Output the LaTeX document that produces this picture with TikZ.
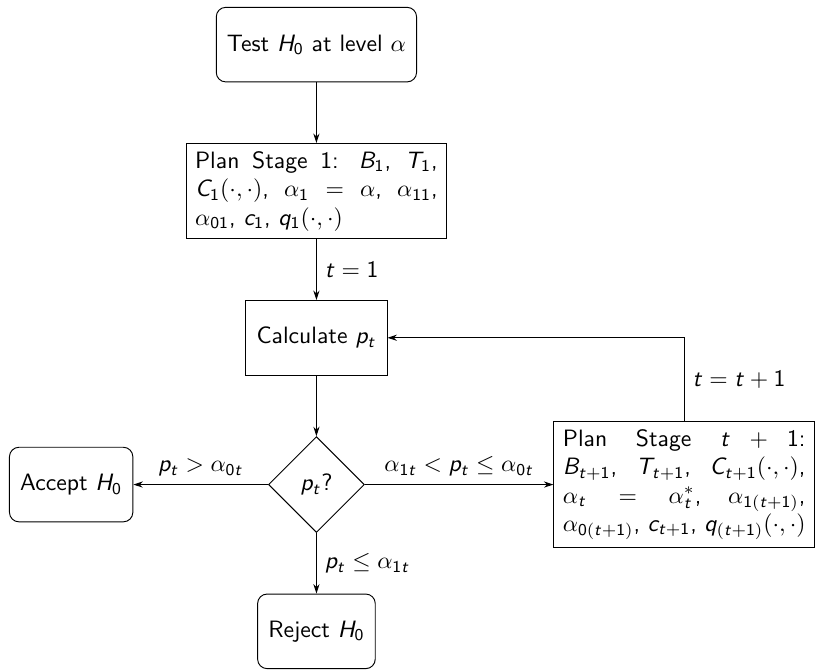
\documentclass[tikz,border=0pt]{standalone}
\usepackage{amsmath}
\renewcommand{\familydefault}{\sfdefault}
% sans italic letters and sans digits in math
\DeclareSymbolFont{sfletters}{OT1}{cmss}{m}{sl}
\DeclareSymbolFont{sfdigits}{OT1}{cmss}{m}{n}
\DeclareMathSymbol{B}{\mathalpha}{sfletters}{`B}
\DeclareMathSymbol{C}{\mathalpha}{sfletters}{`C}
\DeclareMathSymbol{H}{\mathalpha}{sfletters}{`H}
\DeclareMathSymbol{T}{\mathalpha}{sfletters}{`T}
\DeclareMathSymbol{c}{\mathalpha}{sfletters}{`c}
\DeclareMathSymbol{p}{\mathalpha}{sfletters}{`p}
\DeclareMathSymbol{q}{\mathalpha}{sfletters}{`q}
\DeclareMathSymbol{t}{\mathalpha}{sfletters}{`t}
\DeclareMathSymbol{0}{\mathalpha}{sfdigits}{`0}
\DeclareMathSymbol{1}{\mathalpha}{sfdigits}{`1}
\usetikzlibrary{arrows.meta,positioning,calc,shapes.geometric}

\begin{document}
\begin{tikzpicture}[
    >={Stealth[length=4pt,width=2.6pt]}, node distance=9mm,
    term/.style={draw, rounded corners, align=center, minimum height=31.5pt,
                 inner xsep=4.5pt},
    proc/.style={draw, align=center, minimum height=31.5pt, inner xsep=4.5pt},
    plan/.style={draw, text width=102.5pt, align=justify, inner xsep=3.8pt},
    dec/.style={draw, diamond, aspect=1, minimum size=40.5pt, inner sep=1pt},
  ]
  \node[term] (test) {Test $H_0$ at level $\alpha$};
  \node[plan, below=of test] (plan1)
    {Plan Stage 1: $B_1$, $T_1$, $C_1(\cdot,\cdot)$, $\alpha_1 = \alpha$,
     $\alpha_{11}$, $\alpha_{01}$, $c_1$, $q_1(\cdot,\cdot)$};
  \node[proc, below=of plan1] (calc) {Calculate $p_t$};
  \node[dec, below=of calc] (ptest) {$p_t$?};
  \node[term, left=20mm of ptest] (accept) {Accept $H_0$};
  \node[plan, right=28mm of ptest] (plannext)
    {Plan Stage $t+1$:\linebreak $B_{t+1}$, $T_{t+1}$, $C_{t+1}(\cdot,\cdot)$,
     $\alpha_t = \alpha_t^*$, $\alpha_{1(t+1)}$, $\alpha_{0(t+1)}$, $c_{t+1}$,
     $q_{(t+1)}(\cdot,\cdot)$};
  \node[term, below=of ptest] (reject) {Reject $H_0$};

  % main column
  \draw[->] (test) -- (plan1);
  \draw[->] (plan1) -- node[right] {$t=1$} (calc);
  \draw[->] (calc) -- (ptest);

  % outcomes of the comparison
  \draw[->] (ptest) -- node[above] {$p_t > \alpha_{0t}$} (accept);
  \draw[->] (ptest) -- node[right] {$p_t \leq \alpha_{1t}$} (reject);
  \draw[->] (ptest) -- node[above] {$\alpha_{1t} < p_t \leq \alpha_{0t}$} (plannext);

  % next stage loops back
  \draw[->] (plannext.north) |- node[pos=0.25, right] {$t=t+1$} (calc.east);

  \useasboundingbox ($(accept.west |- test.north)+(-3.8pt,2.9pt)$)
    rectangle ($(plannext.east |- reject.south)+(0,1.3pt)$);
\end{tikzpicture}
\end{document}
